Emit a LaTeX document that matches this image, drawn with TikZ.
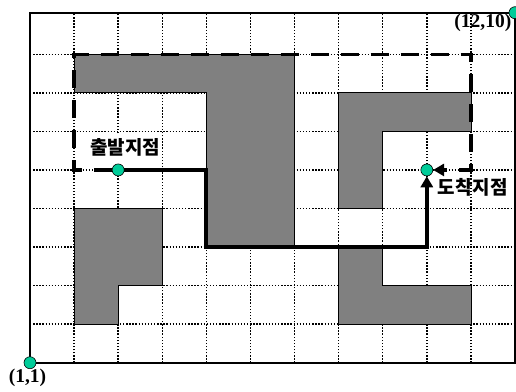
\documentclass[tikz,border=0pt]{standalone}
\usepackage{fontspec}
\setmainfont{Liberation Serif}
\newfontfamily\kr{Noto Sans CJK KR}
\usetikzlibrary{arrows.meta}
\definecolor{dotgreen}{RGB}{0,204,153}
\definecolor{blockgrey}{RGB}{128,128,128}
\begin{document}
\begin{tikzpicture}[x=44.09pt,y=38.55pt,
  gridline/.style={line width=1.4pt, dash pattern=on 1.4pt off 1.7pt},
  block/.style={fill=blockgrey, draw=black, line width=0.8pt},
  spot/.style={circle, fill=dotgreen, draw=black, line width=0.6pt, minimum size=12pt, inner sep=0pt},
  route/.style={line width=4pt, line join=miter},
  dashroute/.style={line width=3.5pt, dash pattern=on 18pt off 12pt, line join=miter},
  tipend/.style={-{Triangle[length=11pt,width=12pt]}},
  coordlabel/.style={font=\fontsize{19.5}{20}\selectfont\bfseries, inner sep=0pt},
  krlabel/.style={font=\kr\fontsize{19}{20}\selectfont\bfseries, inner sep=0pt}]
\useasboundingbox (0.3196,0.2659) rectangle (12.0227,10.4085);
% grid
\foreach \x in {2,...,11} \draw[gridline] (\x,1) -- (\x,10.079);
\foreach \y in {2,...,9} \draw[gridline] (1,\y) -- (12,\y);
% obstacles
\draw[block] (2,9) -- (7,9) -- (7,4) -- (5,4) -- (5,8) -- (2,8) -- cycle;
\draw[block] (8,8) -- (11,8) -- (11,7) -- (9,7) -- (9,5) -- (8,5) -- cycle;
\draw[block] (8,4) -- (9,4) -- (9,3) -- (11,3) -- (11,2) -- (8,2) -- cycle;
\draw[block] (2,5) -- (4,5) -- (4,3) -- (3,3) -- (3,2) -- (2,2) -- cycle;
% start label
\node[krlabel, fill=white, inner xsep=1pt, text height=19pt, text depth=14pt] (startlbl) at (3.155,6.478) {출발지점};
\node[krlabel] (goallbl) at (11.04,5.558) {도착지점};
% border
\draw[line width=2pt] (1,1) rectangle (12,10.079);
% points
\node[spot] (origin) at (1,1) {};
\node[spot] (corner) at (12,10.079) {};
\node[spot] (start) at (3,6) {};
\node[spot] (goal) at (10,6) {};
% routes
\draw[route, tipend] (start) -- (5,6) -- (5,4) -- (10,4) -- (goal);
\draw[dashroute, tipend] (start) -- (2,6) -- (2,9) -- (11,9) -- (11,6) -- (goal);
% coordinate labels
\node[coordlabel] (lblo) at (0.943,0.616) {(1,1)};
\node[coordlabel] (lblc) at (11.27,9.812) {(12,10)};
\end{tikzpicture}
\end{document}
